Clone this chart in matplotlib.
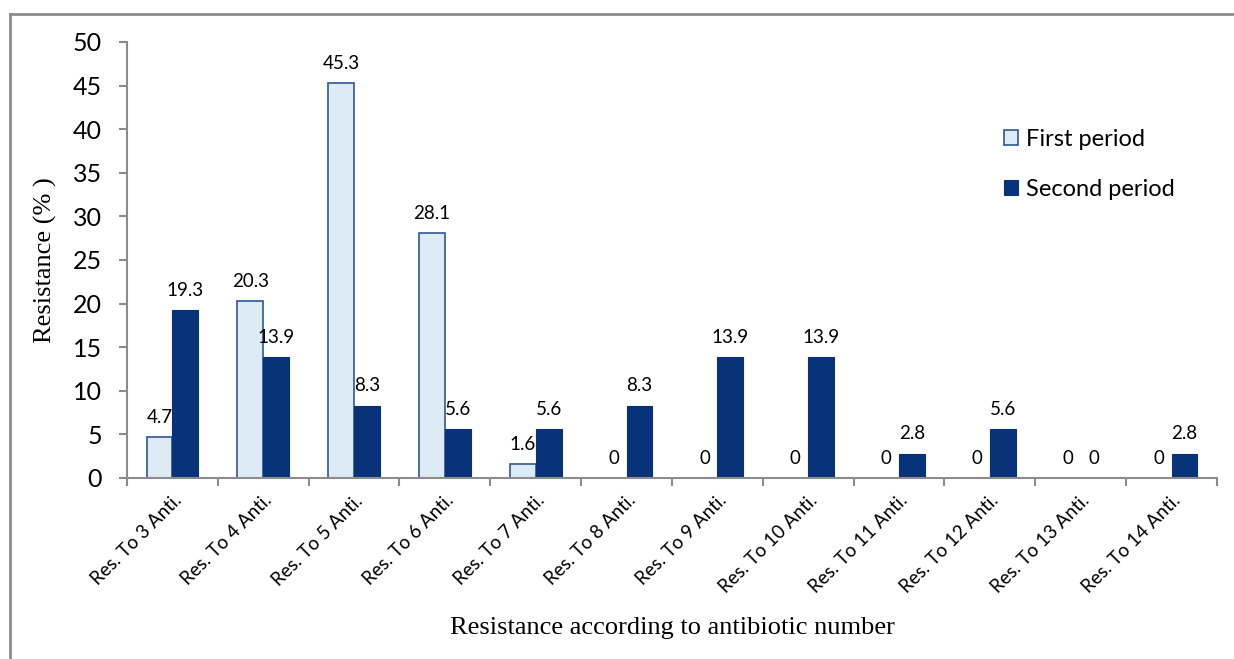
import matplotlib.pyplot as plt
import numpy as np
from matplotlib.lines import Line2D

categories = ['Res. To 3 Anti.', 'Res. To 4 Anti.', 'Res. To 5 Anti.', 'Res. To 6 Anti.',
              'Res. To 7 Anti.', 'Res. To 8 Anti.', 'Res. To 9 Anti.', 'Res. To 10 Anti.',
              'Res. To 11 Anti.', 'Res. To 12 Anti.', 'Res. To 13 Anti.', 'Res. To 14 Anti.']
first_period = [4.7, 20.3, 45.3, 28.1, 1.6, 0, 0, 0, 0, 0, 0, 0]
second_period = [19.3, 13.9, 8.3, 5.6, 5.6, 8.3, 13.9, 13.9, 2.8, 5.6, 0, 2.8]
yticks = [0, 5, 10, 15, 20, 25, 30, 35, 40, 45, 50]

sans = ['Lato', 'DejaVu Sans']
serif = ['Liberation Serif', 'DejaVu Serif']
light = '#DDEBF7'
edge = '#2F5597'
dark = '#08337A'
gray = '#8C8C8C'

fig = plt.figure(figsize=(12.34, 6.59), dpi=100)
ax = fig.add_axes([0.1029, 0.2747, 0.8833, 0.6616])

x = np.arange(len(categories)) + 0.5
w = 0.285
b1 = ax.bar(x - w / 2, first_period, w, color=light, edgecolor=edge, linewidth=1.2, label='First period')
b2 = ax.bar(x + w / 2, second_period, w, color=dark, edgecolor=dark, linewidth=0.8, label='Second period')

for bars, vals in [(b1, first_period), (b2, second_period)]:
    for r, v in zip(bars, vals):
        ax.annotate('%g' % v, (r.get_x() + r.get_width() / 2, v), xytext=(0, 8),
                    textcoords='offset points', ha='center', va='bottom',
                    fontsize=13.5, family=sans)

ax.set_xlim(0, 12)
ax.set_ylim(0, 50)
ax.set_yticks(yticks)
ax.set_yticklabels([str(t) for t in yticks], family=sans, fontsize=18)
ax.set_xticks(np.arange(13))
ax.set_xticklabels([])
ax.set_xticks(x, minor=True)
ax.set_xticklabels(categories, minor=True, rotation=45, ha='right', rotation_mode='anchor',
                   family=sans, fontsize=13.5)
ax.tick_params(axis='x', which='minor', length=0, pad=10)
ax.tick_params(axis='x', which='major', length=6, color=gray, width=1.5)
ax.tick_params(axis='y', length=6, color=gray, width=1.5, pad=12)

for s in ['top', 'right']:
    ax.spines[s].set_visible(False)
for s in ['left', 'bottom']:
    ax.spines[s].set_color(gray)
    ax.spines[s].set_linewidth(1.5)

ax.set_ylabel('Resistance (% )', family=serif, fontsize=19)
ax.yaxis.set_label_coords(-0.064, 0.5)
fig.text(0.5446, 0.047, 'Resistance according to antibiotic number', family=serif,
         fontsize=19, ha='center', va='center')

leg = ax.legend(loc='upper left', bbox_to_anchor=(0.785, 0.85), frameon=False,
                prop={'family': sans, 'size': 17}, handlelength=0.6, handleheight=0.6,
                handletextpad=0.35, labelspacing=1.25)

# outer frame (cropped: only top and left visible)
fig.add_artist(Line2D([10.5 / 1234, 1], [1 - 13.5 / 659] * 2, transform=fig.transFigure,
                      color=gray, linewidth=2))
fig.add_artist(Line2D([10.5 / 1234] * 2, [0, 1 - 13.5 / 659], transform=fig.transFigure,
                      color=gray, linewidth=2))

fig.savefig('out.png', dpi=100)
